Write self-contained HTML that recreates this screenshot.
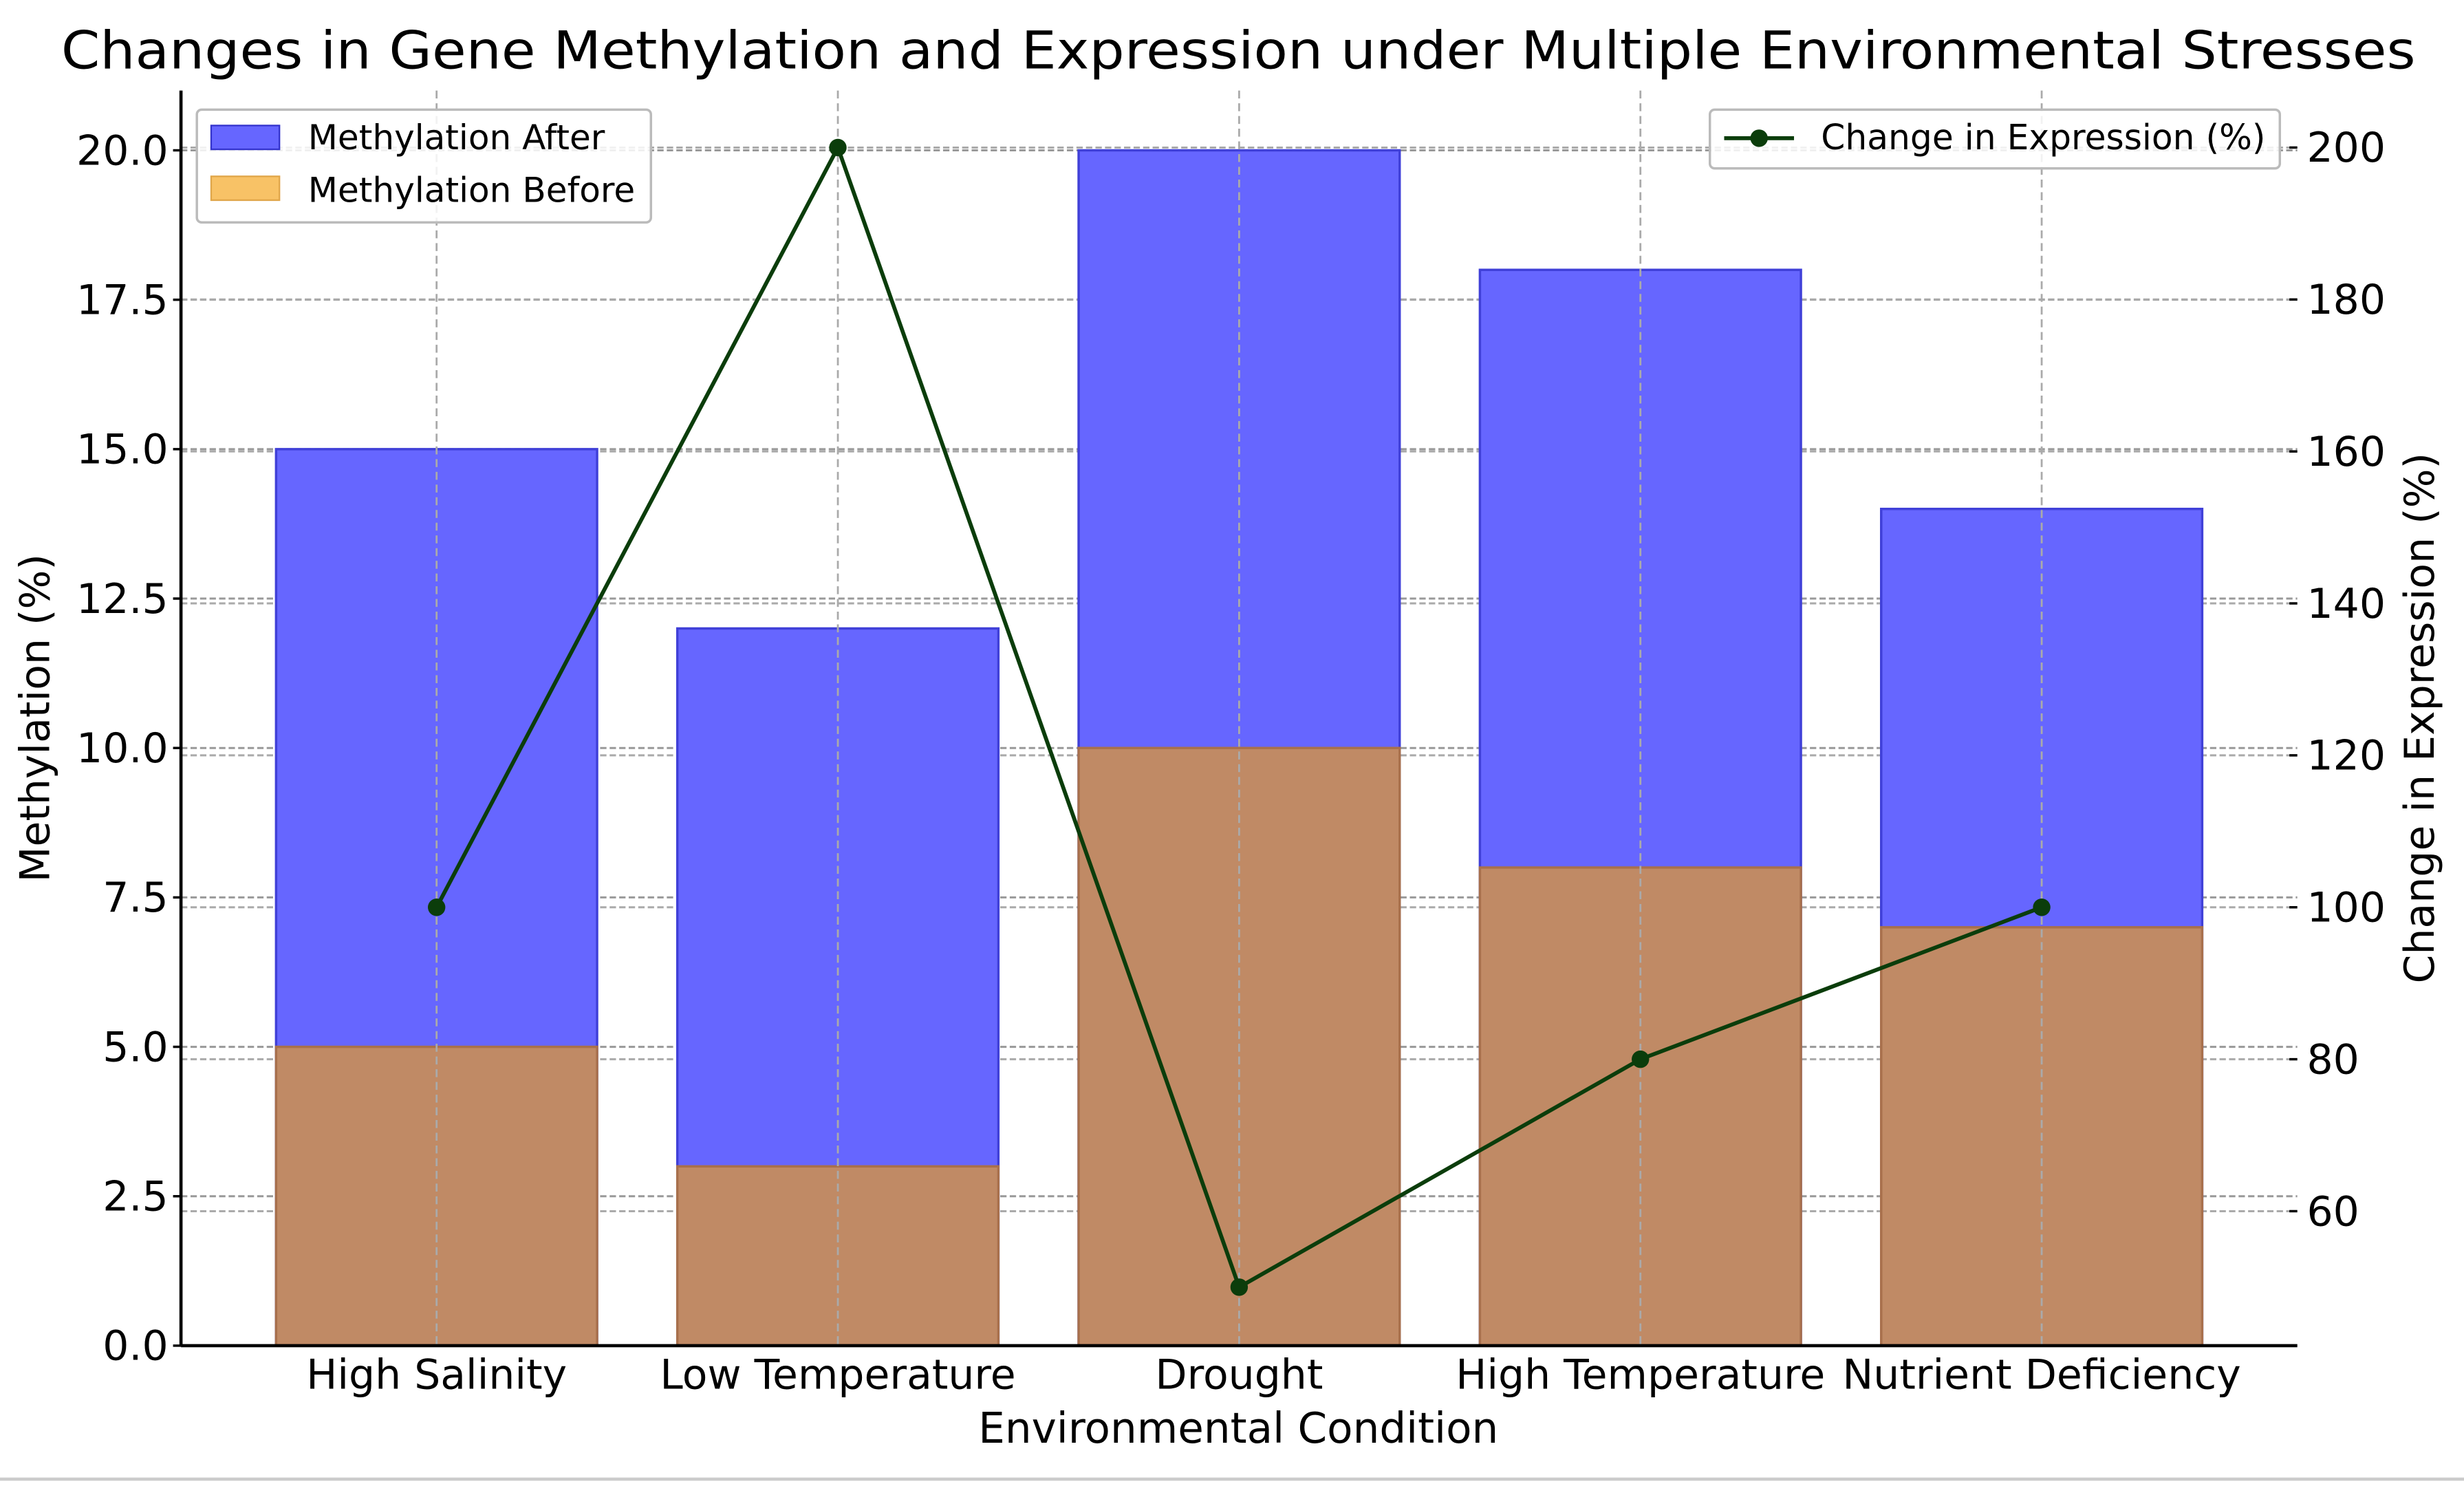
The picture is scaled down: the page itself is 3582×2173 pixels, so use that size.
<!DOCTYPE html>
<html><head><meta charset="utf-8"><style>
html,body{margin:0;padding:0;background:#fff;}
svg{display:block;font-family:"DejaVu Sans","Liberation Sans",sans-serif;}
</style></head><body>
<svg id="chart" width="3582" height="2173" viewBox="0 0 1552 941" preserveAspectRatio="none" xmlns="http://www.w3.org/2000/svg">
<text x="780" y="43" text-anchor="middle" font-size="33" textLength="1483" lengthAdjust="spacingAndGlyphs">Changes in Gene Methylation and Expression under Multiple Environmental Stresses</text>
<g id="grid"></g>
<g id="bars"></g>
<g id="line"></g>
<g id="axes"></g>
<g>
<rect x="124" y="69" width="286" height="71" rx="3" fill="#fff" fill-opacity="0.85" stroke="#bbb" stroke-width="1.5"/>
<rect x="133" y="79" width="43" height="15" fill="#6666ff" stroke="#3333cc"/>
<text x="194" y="94" font-size="21.5" textLength="187" lengthAdjust="spacingAndGlyphs">Methylation After</text>
<rect x="133" y="111" width="43" height="15" fill="#f8c266" stroke="#e0a64a"/>
<text x="194" y="127" font-size="21.5" textLength="206" lengthAdjust="spacingAndGlyphs">Methylation Before</text>
</g>
<g>
<rect x="1077" y="69" width="359" height="37" rx="3" fill="#fff" fill-opacity="0.85" stroke="#bbb" stroke-width="1.5"/>
<line x1="1086" y1="87" x2="1130" y2="87" stroke="#0b3d0b" stroke-width="2.5"/>
<circle cx="1108" cy="87" r="5.5" fill="#0b3d0b"/>
<text x="1147" y="94" font-size="22" textLength="280" lengthAdjust="spacingAndGlyphs">Change in Expression (%)</text>
</g>
<text x="780" y="908" text-anchor="middle" font-size="26.5">Environmental Condition</text>
<text transform="translate(31,452) rotate(-90)" text-anchor="middle" font-size="26">Methylation (%)</text>
<text transform="translate(1533,452) rotate(-90)" text-anchor="middle" font-size="26">Change in Expression (%)</text>
<line x1="0" y1="931" x2="1552" y2="931" stroke="#ccc" stroke-width="2"/>
</svg>
<script>
const categories = ["High Salinity","Low Temperature","Drought","High Temperature","Nutrient Deficiency"];
const methylationBefore = [5, 3, 10, 8, 7];
const methylationAfter = [15, 12, 20, 18, 14];
const expressionChange = [100, 200, 50, 80, 100];
const leftTicks = [0, 2.5, 5, 7.5, 10, 12.5, 15, 17.5, 20];
const leftTickLabels = ["0.0","2.5","5.0","7.5","10.0","12.5","15.0","17.5","20.0"];
const rightTicks = [60, 80, 100, 120, 140, 160, 180, 200];

const NS = "http://www.w3.org/2000/svg";
const L = 114, R = 1447, T = 57, B = 847;
const xMin = -0.637, xMax = 4.637;
const yL = v => B - (v / 21) * (B - T);
const rMin = 42.3, rMax = 207.5;
const yR = v => B - (v - rMin) / (rMax - rMin) * (B - T);
const xC = i => L + (i - xMin) / (xMax - xMin) * (R - L);
const bw = 0.8 * (xC(1) - xC(0));
function mk(tag, attrs, parent){const e=document.createElementNS(NS,tag);for(const k in attrs)e.setAttribute(k,attrs[k]);parent.appendChild(e);return e;}
const grid = document.getElementById('grid'), bars = document.getElementById('bars'), line = document.getElementById('line'), axes = document.getElementById('axes');

leftTicks.forEach((v,i)=>{
  const g = mk('line',{x1:L,x2:R,y1:yL(v),y2:yL(v),stroke:'#999','stroke-width':1.3,'stroke-dasharray':'4,2'},grid);
  
  
  const t = mk('text',{x:L-8,y:yL(v)+9,'text-anchor':'end','font-size':26},axes);
  t.textContent = leftTickLabels[i];
  
  
  mk('line',{x1:L-5,x2:L,y1:yL(v),y2:yL(v),stroke:'#000','stroke-width':1.5},axes);
});
rightTicks.forEach(v=>{
  const g = mk('line',{x1:L,x2:R,y1:yR(v),y2:yR(v),stroke:'#aaa','stroke-width':1.3,'stroke-dasharray':'4,2'},grid);
  
  
  const t = mk('text',{x:R+6,y:yR(v)+9,'font-size':26},axes);
  t.textContent = String(v);
  
  
  mk('line',{x1:R-5,x2:R,y1:yR(v),y2:yR(v),stroke:'#000','stroke-width':1.5},axes);
});
categories.forEach((c,i)=>{
  const x = xC(i);
  const ra = mk('rect',{x:x-bw/2,y:yL(methylationAfter[i]),width:bw,height:B-yL(methylationAfter[i]),fill:'#6666ff',stroke:'#4040d8','stroke-width':1.5},bars);
  
  
  const rb = mk('rect',{x:x-bw/2,y:yL(methylationBefore[i]),width:bw,height:B-yL(methylationBefore[i]),fill:'#c08a65',stroke:'#a8704c','stroke-width':1.5},bars);
  
  
  const vg = mk('line',{x1:x,x2:x,y1:T,y2:B,stroke:'#aaa','stroke-width':1.2,'stroke-dasharray':'5,3'},bars);
  
  
  const t = mk('text',{x:x,y:874,'text-anchor':'middle','font-size':26},axes);
  t.textContent = c;
  
  
});
const pts = expressionChange.map((v,i)=>xC(i)+','+yR(v)).join(' ');
const pl = mk('polyline',{points:pts,fill:'none',stroke:'#0b3d0b','stroke-width':2.5},line);


expressionChange.forEach((v,i)=>{
  const c = mk('circle',{cx:xC(i),cy:yR(v),r:5.5,fill:'#0b3d0b'},line);
  
  
});
mk('line',{x1:L,x2:L,y1:T,y2:B,stroke:'#000','stroke-width':2},axes);
mk('line',{x1:L,x2:R,y1:B,y2:B,stroke:'#000','stroke-width':2},axes);
</script>
</body></html>
